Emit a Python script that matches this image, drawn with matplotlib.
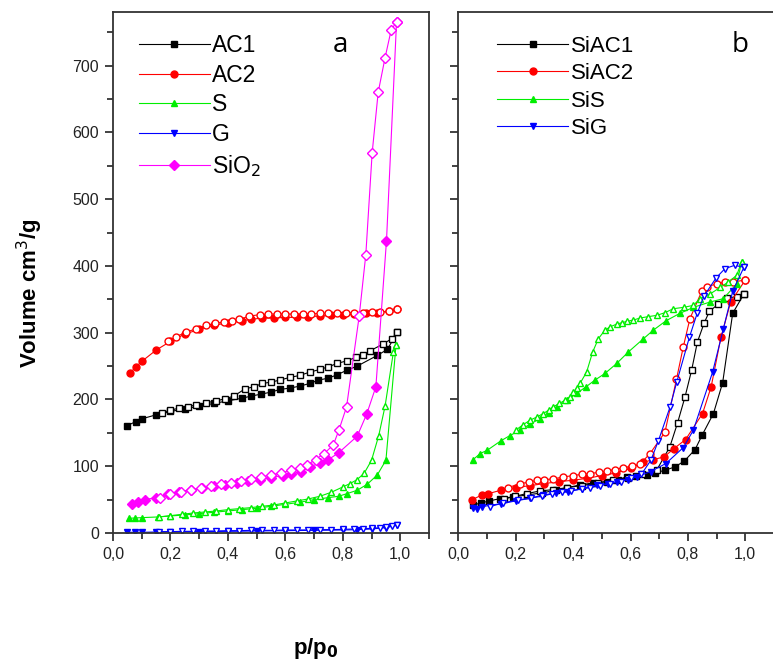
import numpy as np
import matplotlib.pyplot as plt
from matplotlib.ticker import MultipleLocator, FuncFormatter

# ---- panel a: AC1, AC2, S, G, SiO2 (filled = adsorption, open = desorption)
ac1_ads_x = [0.05, 0.08, 0.10, 0.15, 0.20, 0.25, 0.30, 0.35, 0.40, 0.45, 0.48, 0.515, 0.55,
             0.58, 0.615, 0.65, 0.685, 0.715, 0.75, 0.78, 0.815, 0.85, 0.92, 0.955, 0.99]
ac1_ads_y = [161, 167, 171, 177, 182, 186, 190, 194, 198, 202, 205, 208, 211,
             215, 217, 220, 224, 229, 232, 237, 244, 250, 266, 275, 301]
ac1_des_x = [0.17, 0.20, 0.23, 0.26, 0.29, 0.325, 0.36, 0.39, 0.42, 0.46, 0.49, 0.52, 0.55, 0.58,
             0.615, 0.65, 0.685, 0.72, 0.75, 0.78, 0.815, 0.845, 0.87, 0.895, 0.94, 0.97, 0.99]
ac1_des_y = [180, 184, 187, 189, 192, 195, 198, 201, 205, 216, 219, 224, 226, 229,
             233, 236, 241, 245, 249, 254, 258, 263, 267, 273, 283, 291, 301]

ac2_ads_x = [0.06, 0.08, 0.10, 0.15, 0.20, 0.25, 0.30, 0.35, 0.40, 0.45, 0.48, 0.52, 0.56,
             0.60, 0.64, 0.68, 0.72, 0.76, 0.80, 0.84, 0.88, 0.92, 0.96, 0.99]
ac2_ads_y = [240, 249, 257, 274, 287, 298, 305, 311, 315, 318, 320, 322, 322,
             323, 323, 324, 325, 326, 327, 328, 329, 330, 332, 335]
ac2_des_x = [0.19, 0.22, 0.255, 0.29, 0.325, 0.355, 0.385, 0.415, 0.44, 0.475, 0.51, 0.54, 0.57, 0.60,
             0.63, 0.66, 0.69, 0.72, 0.75, 0.78, 0.81, 0.84, 0.87, 0.90, 0.93, 0.96, 0.99]
ac2_des_y = [287, 294, 301, 306, 311, 314, 316, 318, 320, 325, 327, 328, 328, 328,
             328, 328, 328, 329, 329, 329, 330, 330, 330, 331, 331, 332, 335]

s_ads_x = [0.055, 0.077, 0.10, 0.155, 0.20, 0.25, 0.30, 0.35, 0.40, 0.45, 0.50, 0.55, 0.60,
           0.65, 0.70, 0.75, 0.785, 0.815, 0.85, 0.885, 0.92, 0.95, 0.985]
s_ads_y = [22, 22.5, 23, 24, 25.5, 27, 29, 31, 33, 35, 37, 40, 43,
           46, 50, 53, 55, 59, 64, 73, 87, 109, 281]
s_des_x = [0.16, 0.20, 0.24, 0.28, 0.32, 0.36, 0.40, 0.44, 0.48, 0.52, 0.56, 0.60, 0.64,
           0.68, 0.72, 0.76, 0.80, 0.825, 0.85, 0.875, 0.90, 0.925, 0.947, 0.976, 0.985]
s_des_y = [24, 26, 28, 30, 31.5, 33, 35, 36.5, 38, 40, 42, 45, 48,
           51, 55, 61, 69, 74, 80, 90, 109, 146, 190, 271, 281]

g_ads_x = [0.05, 0.075, 0.10, 0.15, 0.20, 0.30, 0.40, 0.50, 0.60, 0.70, 0.80, 0.85, 0.90, 0.95, 0.99]
g_ads_y = [1, 1, 1, 1.5, 2, 2, 2.5, 3, 3.5, 4, 4.5, 5, 6, 8, 12]
g_des_x = [0.16, 0.20, 0.24, 0.28, 0.32, 0.36, 0.40, 0.44, 0.48, 0.52, 0.56, 0.60, 0.64,
           0.68, 0.72, 0.76, 0.80, 0.84, 0.87, 0.90, 0.93, 0.95, 0.97, 0.99]
g_des_y = [2, 2, 2.5, 2.5, 3, 3, 3.5, 3.5, 4, 4, 4, 4.5, 4.5,
           4.5, 5, 5, 5.5, 6, 6.5, 7, 8, 9, 10, 12]

sio2_ads_x = [0.065, 0.087, 0.11, 0.15, 0.19, 0.23, 0.27, 0.31, 0.35, 0.39, 0.43, 0.47, 0.51,
              0.55, 0.59, 0.62, 0.655, 0.685, 0.72, 0.75, 0.785, 0.85, 0.883, 0.915, 0.952, 0.987]
sio2_ads_y = [44, 47, 50, 53, 58, 61, 64, 67, 70, 72, 75, 78, 80,
              83, 86, 88, 92, 99, 105, 110, 120, 145, 178, 219, 438, 766]
sio2_des_x = [0.165, 0.20, 0.235, 0.27, 0.305, 0.34, 0.375, 0.41, 0.445, 0.48, 0.515, 0.55, 0.585, 0.62,
              0.65, 0.675, 0.705, 0.735, 0.767, 0.787, 0.813, 0.857, 0.88, 0.902, 0.923, 0.947, 0.968, 0.987]
sio2_des_y = [52, 58, 62, 65, 67, 70, 73, 75, 78, 81, 84, 87, 90, 94,
              98, 102, 110, 119, 132, 155, 189, 325, 417, 569, 660, 712, 753, 766]

# ---- panel b: SiAC1, SiAC2, SiS, SiG
siac1_ads_x = [0.052, 0.08, 0.108, 0.145, 0.19, 0.24, 0.29, 0.34, 0.38, 0.424, 0.47, 0.517, 0.555,
               0.587, 0.62, 0.656, 0.685, 0.72, 0.755, 0.788, 0.825, 0.85, 0.889, 0.921, 0.956, 0.995]
siac1_ads_y = [42, 45, 48, 51.5, 54, 57, 60, 64, 68, 72, 75, 77, 80,
               84, 86, 87, 90, 94, 99, 108, 125, 147, 179, 225, 329, 358]
siac1_des_x = [0.16, 0.198, 0.238, 0.285, 0.331, 0.38, 0.43, 0.488, 0.54, 0.59, 0.64, 0.691,
               0.737, 0.764, 0.79, 0.813, 0.833, 0.857, 0.875, 0.906, 0.937, 0.97, 0.995]
siac1_des_y = [51, 55, 59, 63, 65, 68, 71, 75, 79, 83, 88, 94,
               129, 165, 204, 244, 286, 315, 332, 343, 352, 354, 358]

siac2_ads_x = [0.049, 0.082, 0.105, 0.148, 0.20, 0.25, 0.30, 0.35, 0.40, 0.45, 0.50, 0.55,
               0.60, 0.645, 0.68, 0.717, 0.75, 0.792, 0.851, 0.881, 0.915, 0.949, 1.0]
siac2_ads_y = [50, 57, 59, 64, 68, 71, 74, 77, 79, 82, 86, 90,
               97, 106, 110, 114, 126, 140, 179, 219, 293, 346, 379]
siac2_des_x = [0.174, 0.215, 0.245, 0.273, 0.30, 0.331, 0.365, 0.401, 0.43, 0.459, 0.49, 0.517, 0.545,
               0.575, 0.605, 0.633, 0.668, 0.72, 0.76, 0.784, 0.807, 0.848, 0.865, 0.90, 0.929, 0.958, 1.0]
siac2_des_y = [68, 74, 76, 79, 80, 81, 84, 86, 88, 89, 91, 93, 95,
               98, 100, 103, 119, 151, 230, 279, 321, 362, 369, 373, 376, 376, 379]

sis_ads_x = [0.052, 0.076, 0.101, 0.148, 0.18, 0.215, 0.25, 0.285, 0.315, 0.343, 0.38, 0.412, 0.445,
             0.476, 0.511, 0.552, 0.592, 0.645, 0.68, 0.724, 0.772, 0.819, 0.877, 0.923, 0.97, 0.987]
sis_ads_y = [110, 119, 124, 138, 146, 154, 163, 171.5, 180, 189, 199, 209, 219,
             229, 239, 254, 271, 291, 304, 318, 329, 338, 346, 351, 373, 406]
sis_des_x = [0.20, 0.225, 0.25, 0.275, 0.296, 0.315, 0.331, 0.352, 0.372, 0.39, 0.401, 0.413, 0.424,
             0.447, 0.468, 0.488, 0.511, 0.53, 0.552, 0.57, 0.587, 0.61, 0.633, 0.66, 0.691, 0.72,
             0.749, 0.785, 0.819, 0.842, 0.877, 0.913, 0.941, 0.97, 0.987]
sis_des_y = [154, 162, 169, 174, 179, 184, 189, 194, 199, 204, 211, 217, 224,
             241, 271, 291, 304, 309, 313, 315, 317, 319, 322, 324, 326, 330,
             336, 338, 341, 351, 358, 368, 376, 386, 406]

sig_ads_x = [0.052, 0.065, 0.081, 0.15, 0.20, 0.25, 0.296, 0.34, 0.383, 0.43, 0.482, 0.52,
             0.552, 0.59, 0.622, 0.67, 0.723, 0.784, 0.819, 0.886, 0.923, 0.956, 0.995]
sig_ads_y = [37, 36, 39.5, 44, 48, 52, 57, 60, 62, 66, 72, 74,
             77, 80, 84, 92, 104, 128, 154, 241, 305, 362, 398]
sig_des_x = [0.11, 0.156, 0.208, 0.255, 0.29, 0.325, 0.36, 0.394, 0.43, 0.46, 0.493, 0.53, 0.568,
             0.60, 0.638, 0.671, 0.697, 0.738, 0.761, 0.805, 0.833, 0.856, 0.898, 0.929, 0.963, 0.995]
sig_des_y = [39.5, 45, 49.5, 52.5, 55, 58.5, 61, 63.5, 66, 68, 71, 74, 77,
             82, 88, 109, 138, 189, 226, 293, 330, 355, 382, 396, 401, 398]

x_ticks = [0.0, 0.2, 0.4, 0.6, 0.8, 1.0]
y_ticks = [0, 100, 200, 300, 400, 500, 600, 700]

plt.rcParams['font.family'] = ['Liberation Sans', 'DejaVu Sans']

fig = plt.figure(figsize=(7.73, 6.69), dpi=100)
ax_a = fig.add_axes([0.1462, 0.2033, 0.4088, 0.7783])
ax_b = fig.add_axes([0.5929, 0.2033, 0.4084, 0.7783])


def draw_iso(ax, xa, ya, xd, yd, color, marker, label):
    """Adsorption branch filled, desorption branch open, same colour"""
    ax.plot(xa, ya, color=color, lw=0.8, marker=marker, ms=5, mfc=color, mec=color,
            label=label)
    ax.plot(xd, yd, color=color, lw=0.8, marker=marker, ms=5, mfc='white', mec=color)


draw_iso(ax_a, ac1_ads_x, ac1_ads_y, ac1_des_x, ac1_des_y, 'black', 's', 'AC1')
draw_iso(ax_a, ac2_ads_x, ac2_ads_y, ac2_des_x, ac2_des_y, 'red', 'o', 'AC2')
draw_iso(ax_a, s_ads_x, s_ads_y, s_des_x, s_des_y, '#00ee00', '^', 'S')
draw_iso(ax_a, g_ads_x, g_ads_y, g_des_x, g_des_y, 'blue', 'v', 'G')
draw_iso(ax_a, sio2_ads_x, sio2_ads_y, sio2_des_x, sio2_des_y, 'magenta', 'D', 'SiO$_2$')

draw_iso(ax_b, siac1_ads_x, siac1_ads_y, siac1_des_x, siac1_des_y, 'black', 's', 'SiAC1')
draw_iso(ax_b, siac2_ads_x, siac2_ads_y, siac2_des_x, siac2_des_y, 'red', 'o', 'SiAC2')
draw_iso(ax_b, sis_ads_x, sis_ads_y, sis_des_x, sis_des_y, '#00ee00', '^', 'SiS')
draw_iso(ax_b, sig_ads_x, sig_ads_y, sig_des_x, sig_des_y, 'blue', 'v', 'SiG')

comma = FuncFormatter(lambda v, p: ('%.1f' % v).replace('.', ','))
for ax in (ax_a, ax_b):
    ax.set_xlim(0, 1.1)
    ax.set_ylim(0, 780)
    ax.set_xticks(x_ticks)
    ax.xaxis.set_major_formatter(comma)
    ax.xaxis.set_minor_locator(MultipleLocator(0.1))
    ax.set_yticks(y_ticks)
    ax.yaxis.set_minor_locator(MultipleLocator(50))
    ax.tick_params(which='major', direction='out', length=6, width=1.2,
                   labelsize=11.5, colors='#222222', pad=4)
    ax.tick_params(which='minor', direction='out', length=4, width=1.2, colors='#222222')
    for side in ax.spines.values():
        side.set_linewidth(1.3)
        side.set_color('#333333')
ax_b.tick_params(axis='y', labelleft=False)
ax_b.spines['right'].set_visible(False)

ax_a.legend(loc='upper left', bbox_to_anchor=(0.082, 0.958), frameon=False, fontsize=16.5,
            handlelength=3.1, handletextpad=0.1, labelspacing=0.29, borderpad=0,
            borderaxespad=0, numpoints=1)
ax_b.legend(loc='upper left', bbox_to_anchor=(0.123, 0.955), frameon=False, fontsize=16,
            handlelength=3.2, handletextpad=0.1, labelspacing=0.29, borderpad=0,
            borderaxespad=0, numpoints=1)

ax_a.text(0.72, 0.937, 'a', transform=ax_a.transAxes, fontsize=20, ha='center', va='center',
          family='Open Sans')
ax_b.text(0.893, 0.937, 'b', transform=ax_b.transAxes, fontsize=20, ha='center', va='center',
          family='Open Sans')

fig.text(0.039, 0.562, 'Volume cm$^3$/g', rotation=90, ha='center', va='center',
         fontsize=16, fontweight='bold')
fig.text(0.409, 0.031, 'p/p$_\\mathbf{0}$', ha='center', va='center', fontsize=16,
         fontweight='bold')

fig.savefig('out.png', dpi=100)
